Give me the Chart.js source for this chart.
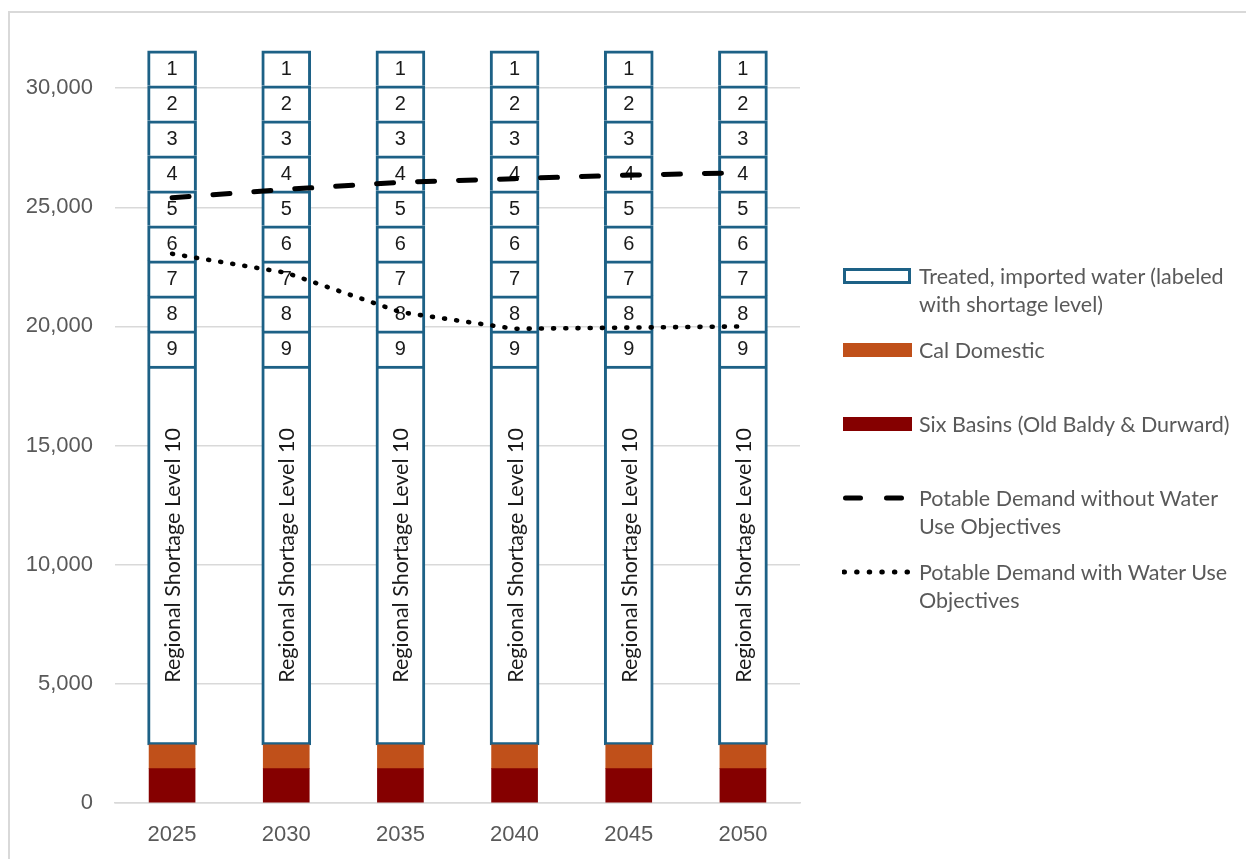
<!DOCTYPE html>
<html>
<head>
<meta charset="utf-8">
<title>Water supply by shortage level</title>
<script src="https://cdn.jsdelivr.net/npm/chart.js@4.4.1/dist/chart.umd.min.js"></script>
<style>
  html, body { margin: 0; padding: 0; background: #fff; }
  #wrap { position: relative; width: 1246px; height: 859px; overflow: hidden; }
  #frame { position: absolute; left: 8px; top: 11px; width: 1400px; height: 1000px;
           border-left: 2px solid #d9d9d9; border-top: 2px solid #d9d9d9; }
  #chart { position: absolute; left: 0; top: 0; }
  #legend { position: absolute; left: 0; top: 0; width: 1246px; height: 859px;
            font-family: Lato, "Noto Sans", sans-serif; font-size: 21.5px; color: #595959; pointer-events: none; }
  .sym { position: absolute; left: 842px; }
  .txt { position: absolute; left: 919px; width: 325px; line-height: 28px; }
</style>
</head>
<body>
<div id="wrap">
  <div id="frame"></div>
  <canvas id="chart" width="1246" height="859"></canvas>
  <div id="legend"></div>
</div>
<script>
// ---- data ----
const years = ['2025', '2030', '2035', '2040', '2045', '2050'];

// local supplies (acre-feet)
const sixBasins   = [1440, 1440, 1440, 1440, 1440, 1440];
const calDomestic = [1000, 1000, 1000, 1000, 1000, 1000];

// treated, imported water available at regional shortage level 10
const regionalLevel10 = [15900, 15900, 15900, 15900, 15900, 15900];
// additional imported water for each step up from level 10 (levels 9 .. 1)
const shortageLevels = ['9', '8', '7', '6', '5', '4', '3', '2', '1'];
const levelBlock = [1470, 1470, 1470, 1470, 1470, 1470];

// potable demand
const demandWithoutObjectives = [25400, 25750, 26050, 26200, 26350, 26450];
const demandWithObjectives    = [23050, 22250, 20600, 19900, 19950, 20000];

const yTicks = [0, 5000, 10000, 15000, 20000, 25000, 30000];

// ---- styles ----
const TEAL = '#1d6186';
const ORANGE = '#c0501a';
const DARKRED = '#850000';
const TEXT = '#595959';

const treatedStyle = {
  type: 'bar',
  backgroundColor: '#ffffff',
  borderColor: TEAL,
  borderWidth: 3,
  barThickness: 49,
  stack: 'supply',
  order: 1
};

const datasets = [
  { label: 'Six Basins (Old Baldy & Durward)', type: 'bar', data: sixBasins,
    backgroundColor: DARKRED, borderWidth: 0, barThickness: 46, stack: 'supply', order: 1 },
  { label: 'Cal Domestic', type: 'bar', data: calDomestic,
    backgroundColor: ORANGE, borderWidth: 0, barThickness: 46, stack: 'supply', order: 1 },
  Object.assign({ label: 'Treated, imported water (labeled with shortage level)', data: regionalLevel10,
    borderSkipped: false, segLabel: 'Regional Shortage Level 10', segRotate: true }, treatedStyle)
];
shortageLevels.forEach(lv => {
  datasets.push(Object.assign({ label: 'Shortage level ' + lv, data: levelBlock,
    borderSkipped: 'start', segLabel: lv }, treatedStyle));
});
// each demand line sits in its own stack so it is plotted at its own value
datasets.push({
  label: 'Potable Demand without Water Use Objectives', type: 'line', data: demandWithoutObjectives,
  stack: 'demandBase', borderColor: '#000', borderWidth: 5, borderDash: [17, 24], borderCapStyle: 'round',
  pointRadius: 0, tension: 0, fill: false, order: 0
});
datasets.push({
  label: 'Potable Demand with Water Use Objectives', type: 'line', data: demandWithObjectives,
  stack: 'demandWUO', borderColor: '#000', borderWidth: 4.6, borderDash: [1, 11.2], borderCapStyle: 'round',
  pointRadius: 0, tension: 0, fill: false, order: 0
});

// writes each treated-water segment's shortage level inside the segment
const segmentLabels = {
  id: 'segmentLabels',
  afterDatasetDraw(chart, args) {
    const ds = chart.data.datasets[args.index];
    if (!ds.segLabel) return;
    const ctx = chart.ctx;
    args.meta.data.forEach(bar => {
      const p = bar.getProps(['x', 'y', 'base'], true);
      const cy = (p.y + p.base) / 2;
      ctx.save();
      ctx.fillStyle = '#1a1a1a';
      ctx.textAlign = 'center';
      ctx.textBaseline = 'middle';
      if (ds.segRotate) {
        ctx.translate(p.x, cy);
        ctx.rotate(-Math.PI / 2);
        ctx.font = '21.5px Lato, "Noto Sans", sans-serif';
        ctx.fillText(ds.segLabel, 0, 1);
      } else {
        ctx.font = '20px "Liberation Sans", Arial, sans-serif';
        ctx.fillText(ds.segLabel, p.x, cy + 1);
      }
      ctx.restore();
    });
  }
};

const chart = new Chart(document.getElementById('chart'), {
  data: { labels: years, datasets },
  options: {
    responsive: false,
    animation: false,
    layout: { padding: { top: 50, right: 446, left: 0, bottom: 0 } },
    plugins: { legend: { display: false }, tooltip: { enabled: false } },
    scales: {
      x: {
        stacked: true,
        grid: { display: false, drawTicks: false },
        border: { display: true, color: '#d9d9d9', width: 1.5 },
        ticks: { color: TEXT, padding: 19, font: { family: '"Liberation Sans", Arial, sans-serif', size: 22 } },
        afterFit: s => { s.height = 56; }
      },
      y: {
        stacked: true,
        min: 0,
        max: 31600,
        grid: { color: '#d9d9d9', lineWidth: 1.5, drawTicks: false },
        border: { display: false },
        ticks: {
          color: TEXT, padding: 22,
          font: { family: '"Liberation Sans", Arial, sans-serif', size: 22 },
          callback: v => v.toLocaleString('en-US')
        },
        afterBuildTicks: s => { s.ticks = yTicks.map(v => ({ value: v })); },
        afterFit: s => { s.width = 115; }
      }
    }
  },
  plugins: [segmentLabels]
});

// ---- legend ----
const legendItems = [
  { text: datasets[2].label, kind: 'outline', y: 276 },
  { text: 'Cal Domestic', kind: 'fill', color: ORANGE, y: 350 },
  { text: 'Six Basins (Old Baldy & Durward)', kind: 'fill', color: DARKRED, y: 424 },
  { text: 'Potable Demand without Water Use Objectives', kind: 'dash', y: 498 },
  { text: 'Potable Demand with Water Use Objectives', kind: 'dot', y: 572 }
];
const legend = document.getElementById('legend');
legendItems.forEach(it => {
  const c = document.createElement('canvas');
  c.width = 72; c.height = 22;
  c.className = 'sym';
  c.style.top = (it.y - 11) + 'px';
  const g = c.getContext('2d');
  if (it.kind === 'outline') {
    g.fillStyle = '#fff';
    g.fillRect(1, 3, 68, 16);
    g.strokeStyle = TEAL; g.lineWidth = 3;
    g.strokeRect(2.5, 4.5, 65, 13);
  } else if (it.kind === 'fill') {
    g.fillStyle = it.color;
    g.fillRect(1, 4, 69, 14);
  } else {
    g.strokeStyle = '#000';
    g.lineWidth = 5;
    g.lineCap = 'round';
    if (it.kind === 'dash') {
      g.setLineDash([15, 26]);
      g.beginPath(); g.moveTo(3.5, 11); g.lineTo(62, 11); g.stroke();
    } else {
      g.setLineDash([0.5, 12.1]);
      g.beginPath(); g.moveTo(2, 11); g.lineTo(66, 11); g.stroke();
    }
  }
  legend.appendChild(c);
  const t = document.createElement('div');
  t.className = 'txt';
  t.style.top = (it.y - 14) + 'px';
  t.textContent = it.text;
  legend.appendChild(t);
});
</script>
</body>
</html>
